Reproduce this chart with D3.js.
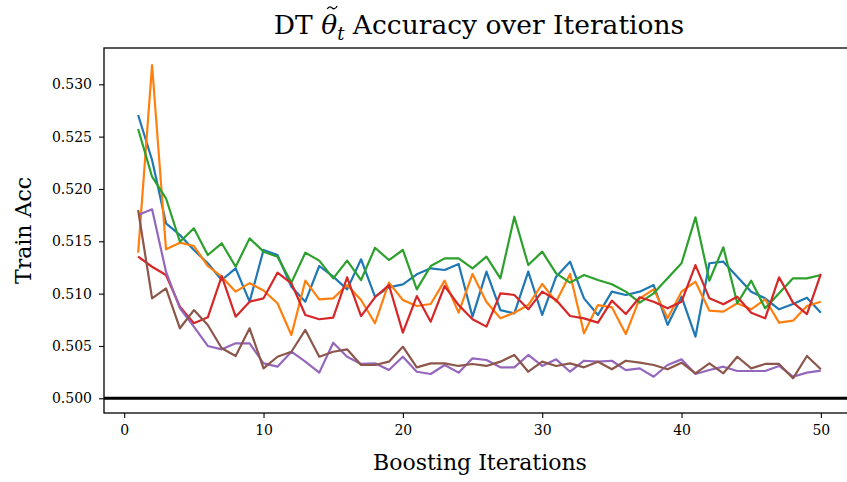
<!DOCTYPE html>
<html>
<head>
<meta charset="utf-8">
<title>DT Accuracy over Iterations</title>
<script src="https://d3js.org/d3.v7.min.js"></script>
<style>
  body { margin: 0; background: #fff; }
  text { font-family: "DejaVu Serif", serif; fill: #000; }
</style>
</head>
<body>
<svg id="chart"></svg>
<script>
// boosting iterations 1..50
const iters = d3.range(1, 51);

const seriesBlue = [0.52707,0.52277,0.51672,0.51560,0.51417,0.51290,0.51130,0.51242,0.50923,0.51417,
  0.51369,0.51066,0.50923,0.51264,0.51162,0.51041,0.51328,0.50971,0.51060,0.51089,
  0.51185,0.51242,0.51226,0.51283,0.50780,0.51210,0.50843,0.50812,0.51210,0.50796,
  0.51162,0.51305,0.50955,0.50796,0.51019,0.50987,0.51019,0.51082,0.50701,0.50971,
  0.50589,0.51290,0.51305,0.51162,0.51019,0.50955,0.50850,0.50901,0.50961,0.50818];
const seriesOrange = [0.51391,0.53184,0.51423,0.51487,0.51455,0.51264,0.51162,0.51019,0.51100,0.51030,
  0.50908,0.50605,0.51124,0.50946,0.50955,0.51082,0.50939,0.50717,0.51105,0.50939,
  0.50882,0.50901,0.51124,0.50818,0.51188,0.50920,0.50764,0.50818,0.50891,0.51092,
  0.50923,0.51188,0.50621,0.50891,0.50869,0.50614,0.50955,0.51041,0.50764,0.51019,
  0.51114,0.50837,0.50828,0.50908,0.50850,0.50946,0.50723,0.50742,0.50882,0.50923];
const seriesGreen = [0.52573,0.52117,0.51911,0.51496,0.51624,0.51369,0.51481,0.51257,0.51528,0.51401,
  0.51353,0.51105,0.51391,0.51315,0.51146,0.51315,0.51130,0.51438,0.51321,0.51417,
  0.51041,0.51264,0.51337,0.51337,0.51242,0.51353,0.51146,0.51735,0.51273,0.51401,
  0.51194,0.51105,0.51178,0.51130,0.51089,0.51019,0.50914,0.51003,0.51146,0.51290,
  0.51729,0.51124,0.51443,0.50908,0.51124,0.50860,0.51003,0.51146,0.51146,0.51178];
const seriesRed = [0.51353,0.51257,0.51178,0.50875,0.50717,0.50774,0.51168,0.50780,0.50923,0.50955,
  0.51200,0.51099,0.50796,0.50755,0.50770,0.51156,0.50786,0.50965,0.51082,0.50627,
  0.50977,0.50732,0.51073,0.50891,0.50755,0.50685,0.51003,0.50987,0.50850,0.51019,
  0.50939,0.50786,0.50764,0.50723,0.50933,0.50805,0.50965,0.50923,0.50860,0.50923,
  0.51273,0.50955,0.50898,0.50971,0.50818,0.50764,0.51156,0.50914,0.50805,0.51188];
const seriesPurple = [0.51751,0.51806,0.51210,0.50860,0.50685,0.50500,0.50468,0.50525,0.50525,0.50334,
  0.50302,0.50445,0.50350,0.50245,0.50531,0.50397,0.50328,0.50334,0.50270,0.50397,
  0.50254,0.50232,0.50318,0.50245,0.50382,0.50366,0.50296,0.50296,0.50414,0.50309,
  0.50372,0.50254,0.50359,0.50350,0.50359,0.50270,0.50286,0.50206,0.50318,0.50372,
  0.50232,0.50270,0.50302,0.50261,0.50261,0.50261,0.50309,0.50206,0.50245,0.50264];
const seriesBrown = [0.51799,0.50955,0.51051,0.50669,0.50843,0.50700,0.50478,0.50404,0.50669,0.50286,
  0.50397,0.50445,0.50653,0.50397,0.50445,0.50468,0.50318,0.50318,0.50350,0.50493,
  0.50296,0.50334,0.50334,0.50309,0.50328,0.50309,0.50350,0.50414,0.50254,0.50350,
  0.50309,0.50334,0.50296,0.50350,0.50277,0.50359,0.50340,0.50318,0.50277,0.50340,
  0.50239,0.50334,0.50239,0.50397,0.50286,0.50328,0.50328,0.50191,0.50404,0.50277];

const allSeries = [seriesBlue, seriesOrange, seriesGreen, seriesRed, seriesPurple, seriesBrown];
const colors = ['#1f77b4', '#ff7f0e', '#2ca02c', '#d62728', '#9467bd', '#8c564b'];

const xTicks = [0, 10, 20, 30, 40, 50];
const yTicks = [0.500, 0.505, 0.510, 0.515, 0.520, 0.525, 0.530];
const baseline = 0.5;

const W = 847, H = 482;
const plotL = 104, plotT = 48, plotR = 855, plotB = 413;

const svg = d3.select('#chart').attr('width', W).attr('height', H);

const x = d3.scaleLinear().domain([-1.45, 52.45]).range([plotL, plotR]);
const y = d3.scaleLinear().domain([0.500, 0.530]).range([398.3, 84.3]);

svg.append('clipPath').attr('id', 'plot-clip')
  .append('rect')
  .attr('x', plotL).attr('y', plotT)
  .attr('width', plotR - plotL).attr('height', plotB - plotT);

const plot = svg.append('g').attr('clip-path', 'url(#plot-clip)');

const line = d3.line()
  .x((d, i) => x(iters[i]))
  .y(d => y(d));

allSeries.forEach((s, k) => {
  plot.append('path')
    .attr('d', line(s))
    .style('fill', 'none')
    .style('stroke', colors[k])
    .style('stroke-width', 2.2)
    .style('stroke-linejoin', 'round');
});

plot.append('line')
  .attr('x1', plotL).attr('x2', plotR)
  .attr('y1', y(baseline)).attr('y2', y(baseline))
  .style('stroke', '#000')
  .style('stroke-width', 3);

// axes
const xAxis = d3.axisBottom(x).tickValues(xTicks).tickSize(5).tickPadding(7);
const yAxis = d3.axisLeft(y).tickValues(yTicks).tickSize(5).tickPadding(7).tickFormat(d3.format('.3f'));

const gx = svg.append('g').attr('transform', `translate(0,${plotB})`).call(xAxis);
const gy = svg.append('g').attr('transform', `translate(${plotL},0)`).call(yAxis);
[gx, gy].forEach(g => {
  g.select('.domain').remove();
  g.selectAll('.tick line').style('stroke', '#000').style('stroke-width', 1.1);
  g.selectAll('.tick text').style('font-family', '"DejaVu Serif", serif').style('font-size', '14px');
});

// frame
svg.append('rect')
  .attr('x', plotL).attr('y', plotT)
  .attr('width', plotR - plotL).attr('height', plotB - plotT)
  .style('fill', 'none')
  .style('stroke', '#000')
  .style('stroke-width', 1.3);

// labels
svg.append('text')
  .attr('x', 480).attr('y', 470)
  .attr('text-anchor', 'middle')
  .style('font-size', '22px')
  .text('Boosting Iterations');

svg.append('text')
  .attr('transform', `translate(31,${(plotT + plotB) / 2}) rotate(-90)`)
  .attr('text-anchor', 'middle')
  .style('font-size', '22px')
  .text('Train Acc');

const title = svg.append('text')
  .attr('x', 479).attr('y', 34)
  .attr('text-anchor', 'middle')
  .style('font-size', '26.5px');
title.append('tspan').text('DT ');
title.append('tspan').style('font-style', 'italic').text('\u03B8');
title.append('tspan').style('font-style', 'italic').style('font-size', '18px').attr('dy', 6).text('t');
title.append('tspan').attr('dy', -6).text(' Accuracy over Iterations');

// tilde accent over theta, drawn as a small curve
const thetaBox = title.node().getExtentOfChar(3);
const tx = thetaBox.x + thetaBox.width / 2 + 3, ty = thetaBox.y - 1.5;
svg.append('path')
  .attr('d', `M${tx - 5},${ty + 1.5} C${tx - 3},${ty - 2} ${tx - 1},${ty - 0.5} ${tx},${ty + 0.5} S${tx + 3},${ty + 2} ${tx + 5},${ty - 1.5}`)
  .style('fill', 'none')
  .style('stroke', '#000')
  .style('stroke-width', 1.3);
</script>
</body>
</html>
